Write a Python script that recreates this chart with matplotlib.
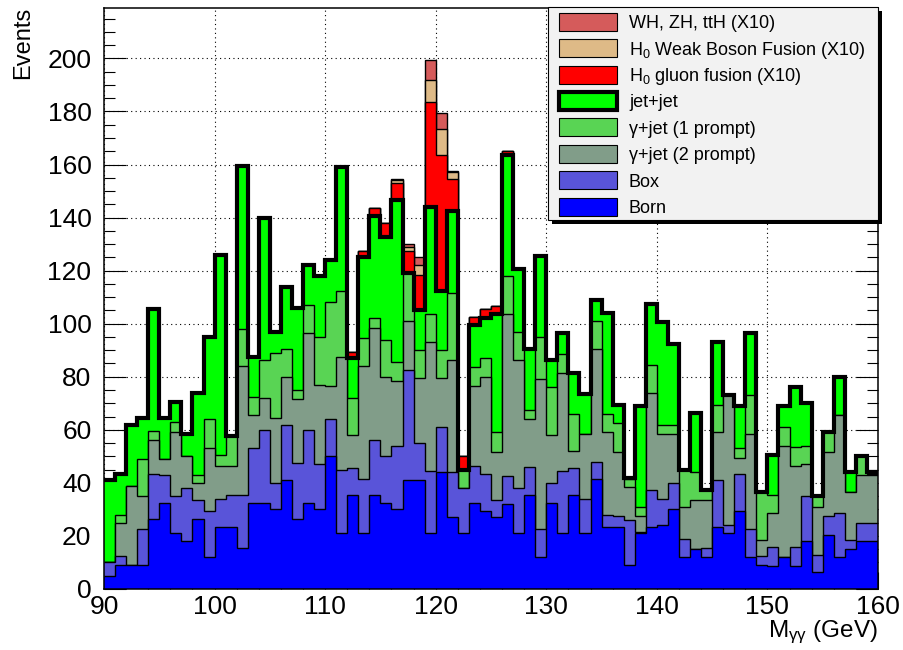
import numpy as np
import matplotlib.pyplot as plt
from matplotlib.patches import Rectangle
from matplotlib.ticker import MultipleLocator

plt.rcParams['font.family'] = ['Liberation Sans', 'DejaVu Sans']
plt.rcParams['mathtext.fontset'] = 'custom'
plt.rcParams['mathtext.rm'] = 'Liberation Sans'
plt.rcParams['mathtext.it'] = 'Liberation Sans:italic'
plt.rcParams['mathtext.bf'] = 'Liberation Sans:bold'

# diphoton mass bins, 1 GeV wide
edges = np.arange(90, 161, 1)

# background contributions per bin (90-159 GeV)
born = [5, 9, 9, 9, 26.5, 32.5, 21, 18, 26.5, 12,
        23.5, 23.5, 15.5, 32.5, 32.5, 30, 41, 26.5, 32.5, 30,
        50, 21, 35.5, 21, 35.5, 32.5, 30, 41, 41, 21,
        44, 27, 21, 32.5, 29.5, 27, 32, 21, 35.5, 12,
        32.5, 21, 35.5, 21, 41.5, 23.5, 23.5, 9, 21, 23.5,
        24, 30, 12, 15, 12, 23.5, 21, 29.5, 12, 9,
        8.5, 12, 8.5, 18, 6.5, 20.5, 12, 15, 18, 18]
box = [5, 3.5, 0, 13.5, 17, 10.5, 14, 20, 7, 17.5,
       10.5, 12, 20, 20.5, 27.5, 10, 21, 21, 27.5, 17,
       14, 24, 10, 20.5, 20.5, 17.5, 24, 41.5, 14, 23.5,
       17, 17, 17, 14, 14, 6.5, 10.5, 17, 10.5, 10.5,
       7.5, 23.5, 10, 13, 6.5, 4.5, 4, 17, 0.5, 14,
       10, 10, 7, 0, 3.5, 17.5, 3, 14, 10.5, 3.5,
       7.5, 0, 7.5, 17, 6.5, 7, 16.5, 3.5, 7, 7]
gjet_2prompt = [0, 12.5, 30, 12.5, 12.5, 6, 24, 12, 6.5, 23.5,
                12.5, 11, 48.5, 12.5, 12, 24.5, 18, 24, 36.5, 30,
                12.5, 42.5, 12.5, 42.5, 42.5, 30, 24.5, 18.5, 24.5, 48.5,
                18.5, 42.5, 0, 30, 36.5, 18, 61, 48.5, 18, 56.5,
                18, 37, 6.5, 24.5, 42.5, 31, 24, 12.5, 6, 36.5,
                24.5, 18.5, 12, 18.5, 18, 18, 49, 6, 36, 6,
                12.5, 42, 30.5, 12, 18, 24, 37, 18, 18, 18]
gjet_1prompt = [0, 3, 0, 14, 3.5, 0, 4, 0, 3, 11,
                4, 11, 14, 7, 14.5, 24.5, 10.5, 3.5, 10.5, 18,
                31.5, 25, 14, 10.5, 3.5, 14, 7, 18, 10.5, 10.5,
                10.5, 25, 7, 7, 7, 7.5, 14.5, 10.5, 3.5, 16,
                18, 7, 14, 0, 10.5, 7, 11, 3, 3.5, 10.5,
                3.5, 3.5, 14, 10.5, 4, 10.5, 0, 3.5, 14.5, 18,
                7, 7, 7, 7, 4, 7.5, 0, 0, 7, 0.5]
jetjet = [31, 15.5, 23, 15.5, 46, 15.5, 7.5, 8.5, 31, 31,
          75.5, 0, 61.5, 15, 53.5, 8, 23.5, 31, 15, 23,
          16, 46.5, 15, 30.5, 38.5, 38.5, 61, 0, 15, 40.5,
          22.5, 31, 0, 16, 15, 44.5, 45.5, 23.5, 23, 30.5,
          10.5, 8, 15.5, 15, 8, 38, 7, 0.5, 38, 23,
          38.5, 30.5, 0, 22.5, 0, 23.5, 0, 16, 23.5, 0,
          15, 8, 22.5, 16, 0, 0, 14.5, 7.5, 0, 0.5]

# Higgs signal (x10), only non-zero from 112 to 127 GeV
higgs_first_bin = 112
h_gluon = [2.5, 2.5, 3, 5.5, 6.5, 8.5, 13.5, 39.5, 51, 12, 5, 3, 3.5, 3, 1.5, 0.5]
h_wbf = [0, 0, 0, 0, 1, 1.5, 3.5, 8.5, 10, 2.5, 0, 0, 0, 0, 0, 0]
h_vh = [0, 0, 0, 0, 0.5, 1, 3, 7.5, 6, 0.5, 0, 0, 0, 0, 0, 0]


def pad_higgs(vals):
    full = np.zeros(len(edges) - 1)
    i0 = higgs_first_bin - edges[0]
    full[i0:i0 + len(vals)] = vals
    return full


layers = [born, box, gjet_2prompt, gjet_1prompt, jetjet,
          pad_higgs(h_gluon), pad_higgs(h_wbf), pad_higgs(h_vh)]
colors = ['#0000ff', '#5954d9', '#819d89', '#59d454', '#00ff00',
          '#ff0000', '#deba87', '#d55b5b']
labels = ['Born', 'Box', 'γ+jet (2 prompt)', 'γ+jet (1 prompt)', 'jet+jet',
          r'H$_0$ gluon fusion (X10)', r'H$_0$ Weak Boson Fusion (X10)',
          'WH, ZH, ttH (X10)']
cum = np.cumsum(np.array(layers, dtype=float), axis=0)
JJ = 4  # index of jet+jet

fig = plt.figure(figsize=(9.04, 6.5), dpi=100)
ax = fig.add_axes([104 / 904, 61 / 650, 774 / 904, 581 / 650])

# stack drawn from the top down, like THStack
for i in reversed(range(len(layers))):
    ax.stairs(cum[i], edges, baseline=0, fill=True, color=colors[i], lw=0, zorder=2)
    ax.stairs(cum[i], edges, baseline=None, color='black', lw=1.0, zorder=2)
ax.stairs(cum[JJ], edges, baseline=None, color='black', lw=3.0, zorder=4)

ax.set_xlim(90, 160)
ax.set_ylim(0, 219)
ax.xaxis.set_major_locator(MultipleLocator(10))
ax.xaxis.set_minor_locator(MultipleLocator(2))
ax.yaxis.set_major_locator(MultipleLocator(20))
ax.yaxis.set_minor_locator(MultipleLocator(5))
ax.tick_params(which='both', direction='in', right=True, width=0.8,
               labelsize=19)
ax.tick_params(axis='x', which='major', length=12, pad=4)
ax.tick_params(axis='x', which='minor', length=6)
ax.tick_params(axis='y', which='major', length=16, pad=9)
ax.tick_params(axis='y', which='minor', length=8)
for s in ax.spines.values():
    s.set_linewidth(1.1)
ax.grid(True, which='major', color='black', linestyle=(0, (1, 3)), lw=0.8)
ax.set_axisbelow(True)

fig.text(23 / 904, 1 - 7 / 650, 'Events', rotation=90, ha='center', va='top',
         fontsize=17)
fig.text(878 / 904, (650 - 637) / 650, r'M$_{\mathrm{γγ}}$ (GeV)', ha='right',
         va='baseline', fontsize=17.5)

# legend box drawn in pixel coordinates
lax = fig.add_axes([0, 0, 1, 1], zorder=10)
lax.set_xlim(0, 904)
lax.set_ylim(650, 0)
lax.axis('off')
lax.add_patch(Rectangle((552, 11), 330, 213, fc='black', ec='none'))
lax.add_patch(Rectangle((548, 7), 330, 213, fc='#f2f2f2', ec='black', lw=0.8))
for k, i in enumerate(reversed(range(len(layers)))):
    yc = 21.7 + k * 26.4
    lax.add_patch(Rectangle((559, yc - 9), 58, 18, fc=colors[i], ec='black',
                            lw=3.0 if i == JJ else 0.8))
    lax.text(629, yc + 6.5, labels[i], fontsize=13, va='baseline', ha='left')

fig.savefig('out.png', dpi=100)
